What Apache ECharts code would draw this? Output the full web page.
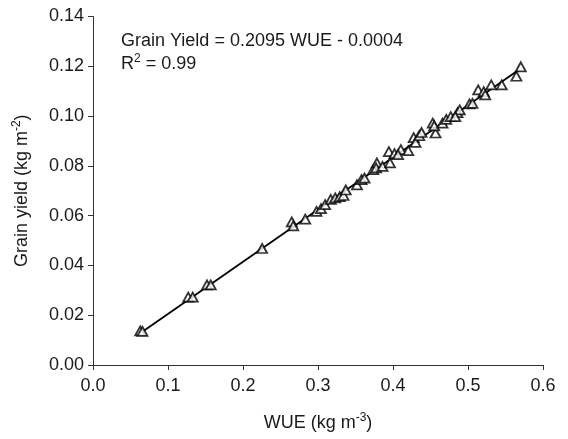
<!DOCTYPE html>
<html>
<head>
<meta charset="utf-8">
<script src="https://cdn.jsdelivr.net/npm/echarts@6/dist/echarts.min.js"></script>
<style>html,body{margin:0;padding:0;background:#fff}#c{width:568px;height:439px}</style>
</head>
<body>
<div id="c"></div>
<script>
// WUE (kg m-3) values
var wue = [0.063,0.066,0.127,0.133,0.152,0.157,0.2255,0.265,0.267,0.283,0.298,0.304,0.3095,0.317,0.323,0.329,0.334,0.337,0.352,0.358,0.362,0.3736,0.3785,0.3775,0.386,0.3945,0.396,0.402,0.4105,0.4067,0.4203,0.4276,0.430,0.435,0.438,0.453,0.4567,0.455,0.466,0.471,0.477,0.486,0.489,0.483,0.502,0.506,0.5136,0.521,0.523,0.531,0.545,0.5645,0.5704];
// Grain yield (kg m-2) values
var grainYield = [0.0137,0.0135,0.0273,0.0273,0.0322,0.0322,0.0468,0.0575,0.0559,0.0586,0.0617,0.0628,0.0644,0.0665,0.0671,0.0676,0.0681,0.0703,0.0724,0.0745,0.0751,0.0785,0.0812,0.0792,0.0798,0.0857,0.0812,0.0849,0.0865,0.0845,0.0861,0.0913,0.0894,0.0921,0.0934,0.0972,0.0932,0.0961,0.0972,0.0987,0.0998,0.1014,0.1025,0.0998,0.1049,0.1051,0.1105,0.1098,0.1085,0.1125,0.1125,0.1160,0.1198];
// Fitted line end points
var fitX = [0.063, 0.567];
var fitY = [0.0128, 0.1184];
var xTicks = ['0.0','0.1','0.2','0.3','0.4','0.5','0.6'];
var yTicks = ['0.00','0.02','0.04','0.06','0.08','0.10','0.12','0.14'];

var pts = wue.map(function(x,i){return [x, grainYield[i]];});
var fit = fitX.map(function(x,i){return [x, fitY[i]];});
var FONT = '"Liberation Sans", Arial, sans-serif';
var TXT = '#1a1a1a';

var chart = echarts.init(document.getElementById('c'), null, {renderer:'canvas'});
chart.setOption({
  animation: false,
  backgroundColor: '#fff',
  title: {
    text: 'Grain Yield = 0.2095 WUE - 0.0004\nR{sup|2} = 0.99',
    left: 116, top: 25,
    textStyle: {
      fontFamily: FONT, fontSize: 18, fontWeight: 'normal', color: TXT, lineHeight: 23,
      rich: { sup: { fontFamily: FONT, fontSize: 12, verticalAlign: 'top', lineHeight: 14, color: TXT } }
    }
  },
  grid: { left: 93, right: 25, top: 16.5, bottom: 72 },
  xAxis: {
    type: 'value', min: 0, max: 0.6, interval: 0.1,
    name: 'WUE (kg m{sup|-3})', nameLocation: 'middle', nameGap: 47,
    nameTextStyle: { fontFamily: FONT, fontSize: 18, color: TXT, lineHeight: 22,
      rich: { sup: { fontFamily: FONT, fontSize: 12, verticalAlign: 'top', lineHeight: 14, color: TXT } } },
    axisLine: { show: true, lineStyle: { color: '#333', width: 1 } },
    axisTick: { show: true, inside: false, length: 5, lineStyle: { color: '#333' } },
    splitLine: { show: false },
    axisLabel: { fontFamily: FONT, fontSize: 18, color: TXT, margin: 12,
      formatter: function(v){ return xTicks[Math.round(v/0.1)]; } }
  },
  yAxis: {
    type: 'value', min: 0, max: 0.14, interval: 0.02,
    name: 'Grain yield (kg m{sup|-2})', nameLocation: 'middle', nameGap: 60, nameRotate: 90,
    nameTextStyle: { fontFamily: FONT, fontSize: 18, color: TXT, lineHeight: 22,
      rich: { sup: { fontFamily: FONT, fontSize: 12, verticalAlign: 'top', lineHeight: 14, color: TXT } } },
    axisLine: { show: true, lineStyle: { color: '#333', width: 1 } },
    axisTick: { show: true, inside: false, length: 5, lineStyle: { color: '#333' } },
    splitLine: { show: false },
    axisLabel: { fontFamily: FONT, fontSize: 18, color: TXT, margin: 9,
      formatter: function(v){ return yTicks[Math.round(v/0.02)]; } }
  },
  series: [
    { type: 'line', data: fit, symbol: 'none', lineStyle: { color: '#000', width: 1.8 }, z: 2, silent: true },
    { type: 'scatter', data: pts, symbol: 'triangle', symbolSize: [10, 9],
      itemStyle: { color: '#fff', borderColor: '#000', borderWidth: 1.8 }, z: 3 }
  ]
});
</script>
</body>
</html>
